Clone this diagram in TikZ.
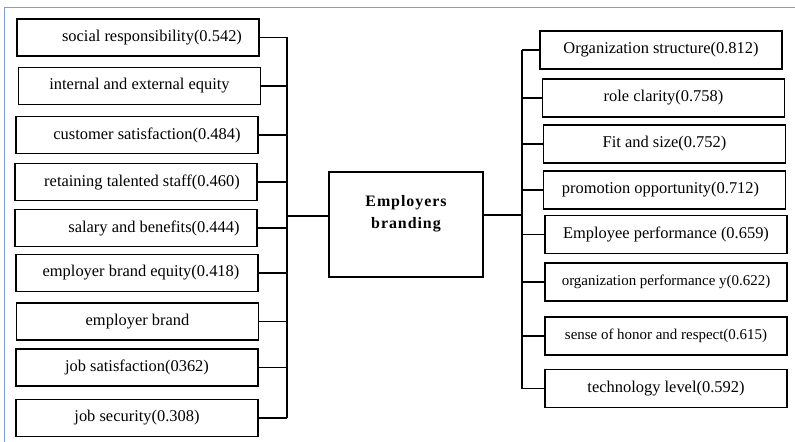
\documentclass[tikz,border=0pt]{standalone}
\usepackage{fontspec}
\setmainfont{Liberation Serif}
\usetikzlibrary{calc}
\definecolor{frameblue}{HTML}{7A9FD8}
\tikzset{
  >=latex,
  box/.style={draw,line width=1.1bp,minimum width=242bp,minimum height=37bp,
    inner sep=0pt,font=\fontsize{16.5}{19}\selectfont},
  smallbox/.style={font=\fontsize{15}{17}\selectfont},
  link/.style={line width=1.1bp}
}
\begin{document}
\begin{tikzpicture}[x=1bp,y=-1bp]
  \useasboundingbox (0,0) rectangle (795,442);
  \draw[frameblue,line width=1.8bp] (4.5,450) -- (4.5,7.5) -- (800,7.5);
  % left column
  \node[box] (social) at (138,37.5) {\hspace*{28bp}social responsibility(0.542)};
  \node[box] (equity) at (139.5,86) {internal and external equity};
  \node[box] (customer) at (137,135) {\hspace*{20bp}customer satisfaction(0.484)};
  \node[box] (talent) at (136,182) {\hspace*{12bp}retaining talented staff(0.460)};
  \node[box] (salary) at (136,228) {\hspace*{36bp}salary and benefits(0.444)};
  \node[box] (brandeq) at (137,273) {\hspace*{8bp}employer brand equity(0.418)};
  \node[box] (brand) at (137.5,321.5) {employer brand};
  \node[box] (jobsat) at (137,367.5) {job satisfaction(0362)};
  \node[box] (jobsec) at (137,418) {job security(0.308)};
  % hub
  \node[draw,line width=1.1bp,minimum width=154bp,minimum height=105bp] (hub) at (406,224.5) {};
  \node[align=center,font=\fontsize{16}{22}\selectfont\bfseries\addfontfeature{LetterSpace=6}]
    (hubtext) at (406,214) {Employers\\branding};
  % right column
  \node[box,minimum height=38bp] (orgstruct) at (661,50) {Organization structure(0.812)};
  \node[box,minimum height=38bp] (role) at (663.5,98) {role clarity(0.758)};
  \node[box,minimum height=38bp] (fit) at (664.5,144) {Fit and size(0.752)};
  \node[box,minimum height=38bp] (promo) at (664.5,190) {promotion opportunity(0.712)\hspace*{8bp}};
  \node[box,minimum height=38bp] (empperf) at (666,234.5) {Employee performance (0.659)};
  \node[box,smallbox,minimum height=38bp] (orgperf) at (666,282) {organization performance y(0.622)};
  \node[box,smallbox,minimum height=38bp] (honor) at (666,336) {sense of honor and respect(0.615)};
  \node[box,minimum height=38bp] (tech) at (666,388.5) {technology level(0.592)};
  % buses
  \coordinate (lbus) at (287,0);
  \coordinate (rbus) at (522,0);
  \coordinate (hubl) at ([yshift=8.5bp]hub.west);
  \coordinate (hubr) at ([yshift=9.5bp]hub.east);
  \foreach \n in {social,equity,customer,talent,salary,brandeq,brand,jobsat,jobsec}
    \draw[link] (\n.east) -- (\n.east -| lbus);
  \draw[link] (social.east -| lbus) -- (jobsec.east -| lbus);
  \draw[link] (hubl) -- (hubl -| lbus);
  \foreach \n in {orgstruct,role,fit,promo,empperf,orgperf,honor,tech}
    \draw[link] (\n.west) -- (\n.west -| rbus);
  \draw[link] (orgstruct.west -| rbus) -- (tech.west -| rbus);
  \draw[link] (hubr) -- (hubr -| rbus);
\end{tikzpicture}
\end{document}
